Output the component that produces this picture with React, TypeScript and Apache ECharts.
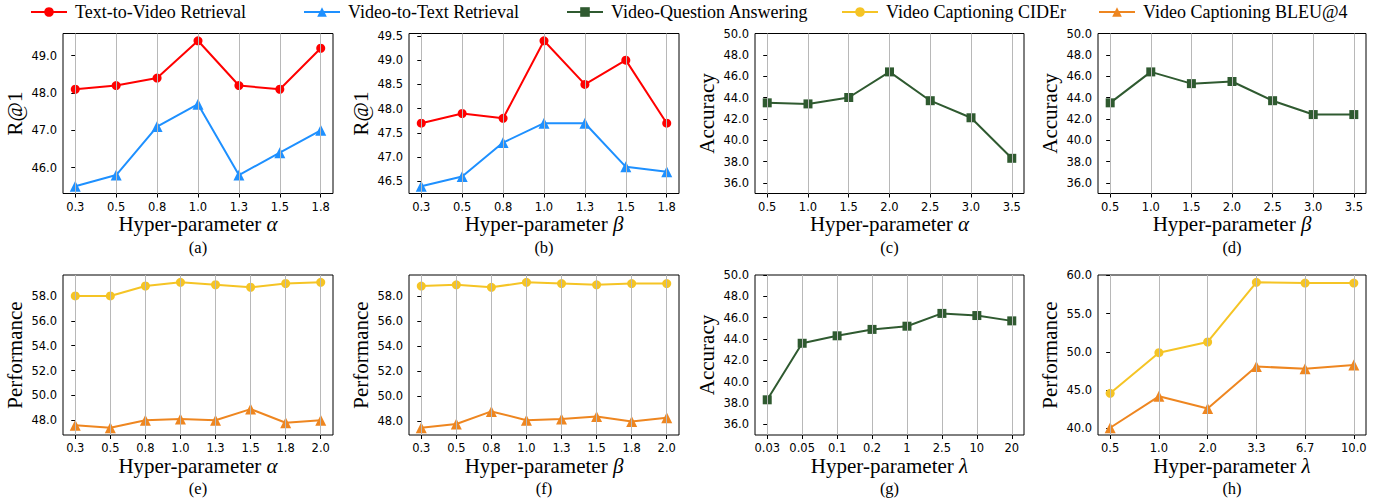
import React, { useEffect, useRef } from 'react';
import * as echarts from 'echarts';

// ---------- data ----------
const legendNames = [
  'Text-to-Video Retrieval',
  'Video-to-Text Retrieval',
  'Video-Question Answering',
  'Video Captioning CIDEr',
  'Video Captioning BLEU@4',
];

const xAlpha7 = ['0.3', '0.5', '0.8', '1.0', '1.3', '1.5', '1.8'];
const xAlpha8 = ['0.3', '0.5', '0.8', '1.0', '1.3', '1.5', '1.8', '2.0'];
const xHalf = ['0.5', '1.0', '1.5', '2.0', '2.5', '3.0', '3.5'];
const xLambdaG = ['0.03', '0.05', '0.1', '0.2', '1', '2.5', '10', '20'];
const xLambdaH = ['0.5', '1.0', '2.0', '3.3', '6.7', '10.0'];

const t2vAlpha = [48.1, 48.2, 48.4, 49.4, 48.2, 48.1, 49.2];
const v2tAlpha = [45.5, 45.8, 47.1, 47.7, 45.8, 46.4, 47.0];
const t2vBeta = [47.7, 47.9, 47.8, 49.4, 48.5, 49.0, 47.7];
const v2tBeta = [46.4, 46.6, 47.3, 47.7, 47.7, 46.8, 46.7];
const vqaAlpha = [43.5, 43.4, 44.0, 46.4, 43.7, 42.1, 38.3];
const vqaBeta = [43.5, 46.4, 45.3, 45.5, 43.7, 42.4, 42.4];
const ciderAlpha = [58.0, 58.0, 58.8, 59.1, 58.9, 58.7, 59.0, 59.1];
const bleuAlpha = [47.6, 47.4, 48.0, 48.1, 48.0, 48.9, 47.8, 48.0];
const ciderBeta = [58.8, 58.9, 58.7, 59.1, 59.0, 58.9, 59.0, 59.0];
const bleuBeta = [47.5, 47.8, 48.8, 48.1, 48.2, 48.4, 48.0, 48.3];
const vqaLambda = [38.3, 43.6, 44.3, 44.9, 45.2, 46.4, 46.2, 45.7];
const ciderLambda = [44.6, 49.9, 51.3, 59.1, 59.0, 59.0];
const bleuLambda = [40.1, 44.2, 42.6, 48.1, 47.8, 48.3];

const ticksA = [46, 47, 48, 49];
const ticksB = [46.5, 47, 47.5, 48, 48.5, 49, 49.5];
const ticksAcc = [36, 38, 40, 42, 44, 46, 48, 50];
const ticksPerf = [48, 50, 52, 54, 56, 58];
const ticksPerfH = [40, 45, 50, 55, 60];
const accRange = [35, 50];

// ---------- styles ----------
const seriesStyle: Record<string, any> = {
  'Text-to-Video Retrieval': { color: '#ff0000', symbol: 'circle', symbolSize: 9 },
  'Video-to-Text Retrieval': { color: '#1e90ff', symbol: 'triangle', symbolSize: 11 },
  'Video-Question Answering': { color: '#2f5a30', symbol: 'rect', symbolSize: 9 },
  'Video Captioning CIDEr': { color: '#f5c425', symbol: 'circle', symbolSize: 9 },
  'Video Captioning BLEU@4': { color: '#ee8620', symbol: 'triangle', symbolSize: 11 },
};
const legendLeft = [30, 303, 566, 841, 1098];

type Panel = {
  box: number[];
  x: string[];
  yName: string;
  sym: string;
  tag: string;
  ticks: number[];
  fixed?: number[];
  series: { name: string; data: number[] }[];
};

const TOP1 = 33.5;
const TOP2 = 275;
const H = 160;

const panels: Panel[] = [
  { box: [63, TOP1, 270, H], x: xAlpha7, yName: 'R@1', sym: 'α', tag: '(a)', ticks: ticksA,
    series: [{ name: legendNames[0], data: t2vAlpha }, { name: legendNames[1], data: v2tAlpha }] },
  { box: [409, TOP1, 270, H], x: xAlpha7, yName: 'R@1', sym: 'β', tag: '(b)', ticks: ticksB,
    series: [{ name: legendNames[0], data: t2vBeta }, { name: legendNames[1], data: v2tBeta }] },
  { box: [755, TOP1, 269, H], x: xHalf, yName: 'Accuracy', sym: 'α', tag: '(c)', ticks: ticksAcc, fixed: accRange,
    series: [{ name: legendNames[2], data: vqaAlpha }] },
  { box: [1098, TOP1, 268, H], x: xHalf, yName: 'Accuracy', sym: 'β', tag: '(d)', ticks: ticksAcc, fixed: accRange,
    series: [{ name: legendNames[2], data: vqaBeta }] },
  { box: [63, TOP2, 270, H], x: xAlpha8, yName: 'Performance', sym: 'α', tag: '(e)', ticks: ticksPerf,
    series: [{ name: legendNames[3], data: ciderAlpha }, { name: legendNames[4], data: bleuAlpha }] },
  { box: [409, TOP2, 270, H], x: xAlpha8, yName: 'Performance', sym: 'β', tag: '(f)', ticks: ticksPerf,
    series: [{ name: legendNames[3], data: ciderBeta }, { name: legendNames[4], data: bleuBeta }] },
  { box: [755, TOP2, 269, H], x: xLambdaG, yName: 'Accuracy', sym: 'λ', tag: '(g)', ticks: ticksAcc, fixed: accRange,
    series: [{ name: legendNames[2], data: vqaLambda }] },
  { box: [1098, TOP2, 268, H], x: xLambdaH, yName: 'Performance', sym: 'λ', tag: '(h)', ticks: ticksPerfH,
    series: [{ name: legendNames[3], data: ciderLambda }, { name: legendNames[4], data: bleuLambda }] },
];

const SERIF = 'Liberation Serif';
const SANS = 'DejaVu Sans';

function buildOption() {
  const grid: any[] = [];
  const xAxis: any[] = [];
  const yAxis: any[] = [];
  const series: any[] = [];
  const graphic: any[] = [];

  panels.forEach((p, i) => {
    const [left, top, width, height] = p.box;
    const n = p.x.length;
    const m = 0.05 * (n - 1);
    const idx = p.x.map((_, k) => k);
    let yMin: number, yMax: number;
    if (p.fixed) {
      yMin = p.fixed[0];
      yMax = p.fixed[1];
    } else {
      const all = p.series.flatMap((s) => s.data);
      const lo = Math.min(...all);
      const hi = Math.max(...all);
      const r = hi - lo;
      yMin = lo - 0.05 * r;
      yMax = hi + 0.05 * r;
    }

    grid.push({ left, top, width, height, show: true, borderColor: '#000', borderWidth: 1, backgroundColor: 'transparent' });

    xAxis.push({
      type: 'value', gridIndex: i, min: -m, max: n - 1 + m,
      axisLine: { show: false },
      axisTick: { show: true, length: 4, customValues: idx, lineStyle: { color: '#000', width: 1 } },
      axisLabel: {
        customValues: idx, margin: 7, color: '#000', fontFamily: SANS, fontSize: 11.5,
        formatter: (v: number) => p.x[Math.round(v)] ?? '',
      },
      splitLine: { show: false },
      name: 'Hyper-parameter {i|' + p.sym + '}',
      nameLocation: 'middle', nameGap: 20,
      nameTextStyle: {
        fontFamily: SERIF, fontSize: 21, color: '#000',
        rich: { i: { fontFamily: SERIF, fontSize: 21, fontStyle: 'italic', color: '#000' } },
      },
    });

    yAxis.push({
      type: 'value', gridIndex: i, min: yMin, max: yMax,
      axisLine: { show: false },
      axisTick: { show: true, length: 4, customValues: p.ticks, lineStyle: { color: '#000', width: 1 } },
      axisLabel: {
        customValues: p.ticks, margin: 6, color: '#000', fontFamily: SANS, fontSize: 11.5,
        formatter: (v: number) => v.toFixed(1),
      },
      splitLine: { show: false },
      name: p.yName, nameLocation: 'middle', nameGap: 38,
      nameTextStyle: { fontFamily: SERIF, fontSize: 21, color: '#000' },
    });

    // vertical grid lines at each category position
    series.push({
      type: 'line', name: '_grid' + i, xAxisIndex: i, yAxisIndex: i, z: 1, silent: true,
      data: p.series[0].data.map((v, k) => [k, v]),
      symbol: 'none', lineStyle: { opacity: 0 },
      markLine: {
        silent: true, symbol: ['none', 'none'], label: { show: false },
        lineStyle: { color: '#b8b8b8', width: 1, type: 'solid' },
        emphasis: { disabled: true },
        data: idx.map((k) => ({ xAxis: k })),
      },
    });

    p.series.forEach((s) => {
      const st = seriesStyle[s.name];
      series.push({
        type: 'line', name: s.name, xAxisIndex: i, yAxisIndex: i, z: 3,
        data: s.data.map((v, k) => [k, v]),
        symbol: st.symbol, symbolSize: st.symbolSize, showSymbol: true,
        itemStyle: { color: st.color },
        lineStyle: { color: st.color, width: 2 },
      });
    });

    graphic.push({
      type: 'text', x: left + width / 2, y: i < 4 ? 247 : 488,
      style: {
        text: p.tag, fontFamily: SERIF, fontSize: 16.5, fill: '#000',
        textAlign: 'center', textVerticalAlign: 'middle', align: 'center', verticalAlign: 'middle',
      },
    });
  });

  const legend = legendNames.map((name, k) => ({
    top: 3, left: legendLeft[k], padding: 0, itemWidth: 36, itemHeight: 12,
    data: [name],
    textStyle: { fontFamily: SERIF, fontSize: 18, color: '#000', padding: [0, 0, 0, 3] },
  }));

  return {
    animation: false,
    backgroundColor: '#ffffff',
    legend,
    grid, xAxis, yAxis, series, graphic,
  };
}

export default function App() {
  const ref = useRef<HTMLDivElement>(null);
  useEffect(() => {
    document.body.style.margin = '0';
    if (!ref.current) return;
    const chart = echarts.init(ref.current, undefined, { renderer: 'svg' });
    chart.setOption(buildOption() as any);
    return () => chart.dispose();
  }, []);
  return <div ref={ref} style={{ width: 1387, height: 502 }} />;
}
